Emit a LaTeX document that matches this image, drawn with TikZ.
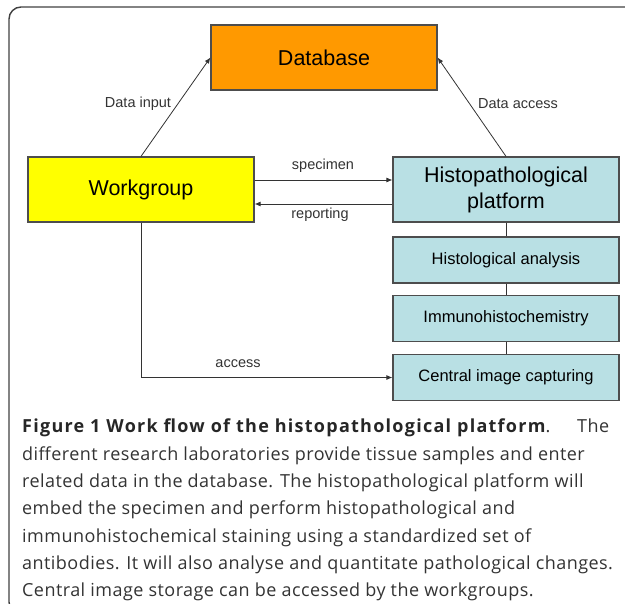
\documentclass[tikz,border=0pt]{standalone}
\usepackage{fontspec}
\setmainfont{Liberation Sans}
\newfontfamily\captionfont[LetterSpace=2.5, BoldFeatures={LetterSpace=7}]{Open Sans}
\usetikzlibrary{arrows.meta}
\definecolor{DbOrange}{RGB}{255,153,0}
\definecolor{WgYellow}{RGB}{255,255,0}
\definecolor{PlatTeal}{RGB}{185,224,228}
\definecolor{EdgeGray}{RGB}{77,77,77}
\definecolor{TextGray}{RGB}{51,51,51}
\begin{document}
\begin{tikzpicture}
[
x=1bp, y=-1bp,
BigBox/.style={rectangle, draw=EdgeGray, line width=1.2bp, minimum width=226bp, minimum height=65bp, inner sep=0pt, align=center, font=\fontsize{21.5bp}{26bp}\selectfont},
StepBox/.style={rectangle, draw=EdgeGray, fill=PlatTeal, line width=1.2bp, minimum width=226bp, minimum height=46bp, inner sep=0pt, font=\fontsize{16.5bp}{20bp}\selectfont},
Link/.style={-{Latex[length=6bp,width=5bp]}, draw=black!80, line width=0.8bp},
Plain/.style={-, draw=black!80, line width=0.8bp},
EdgeLabel/.style={text=TextGray, inner sep=0pt, font=\fontsize{14.5bp}{17bp}\selectfont},
Frame/.style={draw=black!75, line width=1.4bp, rounded corners=12bp},
]

\useasboundingbox (0,0) rectangle (625,604);
\clip (0,0) rectangle (625,604);
\draw[Frame] (640,7) -- (9,7) -- (9,614) -- (30,614);

% boxes
\node[BigBox, fill=DbOrange] (db) at (324,57.5) {Database};
\node[BigBox, fill=WgYellow] (wg) at (141,189.5) {Workgroup};
\node[BigBox, fill=PlatTeal] (hp) at (506,189.5) {Histopathological\\platform};

\node[StepBox] (ha) at (506,260) {Histological analysis};
\node[StepBox] (ih) at (506,318.5) {Immunohistochemistry};
\node[StepBox] (ci) at (506,377.5) {Central image capturing};

% connectors
\draw[Link] (wg.north) -- (db.west);
\draw[Link] (hp.north) -- (db.east);
\draw[Link] ([yshift=9.5bp]wg.east) -- ([yshift=9.5bp]hp.west);
\draw[Link] ([yshift=-14.5bp]hp.west) -- ([yshift=-14.5bp]wg.east);
\draw[Link] (wg.south) |- (ci.west);

\draw[Plain] (hp.south) -- (ha.north);
\draw[Plain] (ha.south) -- (ih.north);
\draw[Plain] (ih.south) -- (ci.north);

\node[EdgeLabel] (lin) at (138,104) {Data input};
\node[EdgeLabel] (lacc) at (518,104) {Data access};
\node[EdgeLabel] (lspec) at (323,166) {specimen};
\node[EdgeLabel] (lrep) at (320,215) {reporting};
\node[EdgeLabel] (laccess) at (238,364) {access};

% caption
\node[anchor=north west, inner sep=0pt, align=left, text=TextGray, font=\captionfont\fontsize{18bp}{27.3bp}\selectfont] (cap) at (22,419)
{{\bfseries\color{black!85}Figure 1 Work flow of the histopathological platform}.\hspace{20bp} The\\
different research laboratories provide tissue samples and enter\\
related data in the database. The histopathological platform will\\
embed the specimen and perform histopathological and\\
immunohistochemical staining using a standardized set of\\
antibodies. It will also analyse and quantitate pathological changes.\\
Central image storage can be accessed by the workgroups.};

\end{tikzpicture}
\end{document}
